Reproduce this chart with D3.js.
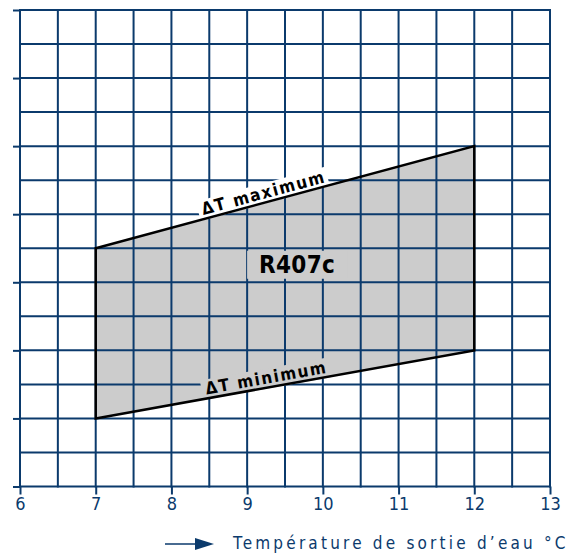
<!DOCTYPE html>
<html>
<head>
<meta charset="utf-8">
<script src="https://cdn.jsdelivr.net/npm/d3@7"></script>
<style>
  body { margin: 0; background: #fff; }
  svg { display: block; }
</style>
</head>
<body>
<svg id="chart" width="572" height="553"></svg>
<script>
// water outlet temperature (°C) and envelope limits (grid units)
var xTicks = [6, 7, 8, 9, 10, 11, 12, 13];
var envelopeX = [7, 7, 12, 12];
var envelopeY = [2, 7, 10, 4];
var gasLabel = "R407c";
var maxLabel = "\u0394T maximum";
var minLabel = "\u0394T minimum";
var axisTitle = "Température de sortie d\u2019eau °C";

var navy = "#0b3a6c";
var font = "'DejaVu Sans Condensed', 'DejaVu Sans', sans-serif";
var svg = d3.select("#chart");

var x = d3.scaleLinear().domain([6, 13]).range([20, 550]);
var y = d3.scaleLinear().domain([0, 14]).range([486.5, 10]);

function drawGrid(g) {
    g.selectAll(".v")
        .data(d3.range(6, 13.01, 0.5))
        .enter().append("line")
        .attr("x1", function(d) { return x(d); })
        .attr("x2", function(d) { return x(d); })
        .attr("y1", y(14) - 1)
        .attr("y2", y(0) + 1)
        .attr("stroke", navy)
        .attr("stroke-width", 2);
    g.selectAll(".h")
        .data(d3.range(0, 15))
        .enter().append("line")
        .attr("x1", x(6) - 1)
        .attr("x2", x(13) + 1)
        .attr("y1", function(d) { return y(d); })
        .attr("y2", function(d) { return y(d); })
        .attr("stroke", navy)
        .attr("stroke-width", 2);
}

drawGrid(svg.append("g"));

// envelope
var pts = envelopeX.map(function(d, i) { return [x(d), y(envelopeY[i])]; });
var envPath = "M" + pts.join("L") + "Z";
svg.append("path")
    .attr("d", envPath)
    .attr("fill", "#cccccc");

svg.append("clipPath").attr("id", "env")
    .append("path").attr("d", envPath);
drawGrid(svg.append("g").attr("clip-path", "url(#env)"));

// axes
var xAxis = svg.append("g")
    .attr("transform", "translate(0," + y(0) + ")")
    .call(d3.axisBottom(x).tickValues(xTicks).tickSize(8).tickPadding(3).tickFormat(d3.format("d")));
xAxis.select(".domain").remove();
xAxis.selectAll("line").attr("stroke", navy).attr("stroke-width", 2);
xAxis.selectAll("text")
    .attr("fill", navy)
    .style("font-family", font)
    .style("font-size", "18px");

var yAxis = svg.append("g")
    .attr("transform", "translate(" + x(6) + ",0)")
    .call(d3.axisLeft(y).tickValues(d3.range(0, 15, 2)).tickSize(7).tickFormat(""));
yAxis.select(".domain").remove();
yAxis.selectAll("line").attr("stroke", navy).attr("stroke-width", 2);

// edge labels sit on their own background, interrupting the grid
function edgeLabel(text, x0, y0, x1, y1, pos, bg) {
    var px0 = x(x0), py0 = y(y0), px1 = x(x1), py1 = y(y1);
    var ang = Math.atan2(py1 - py0, px1 - px0) * 180 / Math.PI;
    var cx = px0 + (px1 - px0) * pos, cy = py0 + (py1 - py0) * pos;
    var g = svg.append("g")
        .attr("transform", "translate(" + cx + "," + cy + ") rotate(" + ang + ")");
    var t = g.append("text")
        .attr("x", 0)
        .attr("y", -4)
        .attr("text-anchor", "middle")
        .style("font-family", font)
        .style("font-weight", "bold")
        .style("font-size", "17px")
        .style("letter-spacing", "1.6px")
        .text(text);
    var b = t.node().getBBox();
    g.insert("rect", "text")
        .attr("x", b.x - 4)
        .attr("y", b.y + 1)
        .attr("width", b.width + 6)
        .attr("height", -b.y)
        .attr("fill", bg);
}
edgeLabel(maxLabel, 7, 7, 12, 10, 0.45, "#fff");
edgeLabel(minLabel, 7, 2, 12, 4, 0.455, "#cccccc");

svg.append("path")
    .attr("d", envPath)
    .attr("fill", "none")
    .attr("stroke", "#000")
    .attr("stroke-width", 2.5);

// gas label
var gl = svg.append("g");
var gt = gl.append("text")
    .attr("x", x(9.66))
    .attr("y", y(6.28))
    .attr("text-anchor", "middle")
    .style("font-family", font)
    .style("font-weight", "bold")
    .style("font-size", "24px")
    .style("letter-spacing", "0.3px")
    .text(gasLabel);
var gb = gt.node().getBBox();
gl.insert("rect", "text")
    .attr("x", gb.x - 12)
    .attr("y", gb.y)
    .attr("width", gb.width + 24)
    .attr("height", gb.height)
    .attr("fill", "#cccccc");

// axis title with arrow
svg.append("line")
    .attr("x1", 165).attr("x2", 200)
    .attr("y1", 544).attr("y2", 544)
    .attr("stroke", navy)
    .attr("stroke-width", 1.5);
svg.append("path")
    .attr("d", "M195,538L214,544L195,550Z")
    .attr("fill", navy);
svg.append("text")
    .attr("x", 233)
    .attr("y", 549)
    .attr("fill", navy)
    .style("font-family", font)
    .style("font-size", "17px")
    .style("letter-spacing", "3.2px")
    .text(axisTitle);
</script>
</body>
</html>
